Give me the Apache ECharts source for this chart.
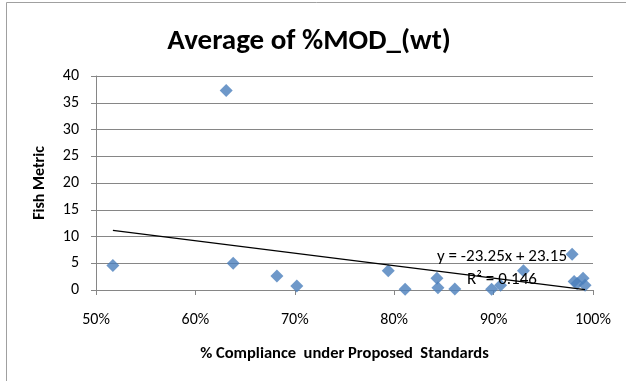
<!DOCTYPE html>
<html>
<head>
<meta charset="utf-8">
<script src="https://cdn.jsdelivr.net/npm/echarts@6/dist/echarts.min.js"></script>
<style>
  html, body { margin: 0; padding: 0; background: #fff; }
  #chart { width: 626px; height: 381px; }
</style>
</head>
<body>
<div id="chart"></div>
<script>
// Compliance share (fraction) and the fish metric for each site
const compliance = [0.517, 0.631, 0.638, 0.682, 0.702, 0.794, 0.811, 0.843, 0.844, 0.861, 0.898, 0.907, 0.930, 0.979, 0.981, 0.984, 0.990, 0.992];
const fishMetric = [4.6, 37.3, 5.0, 2.6, 0.75, 3.6, 0.15, 2.2, 0.4, 0.2, 0.15, 0.9, 3.6, 6.7, 1.6, 1.2, 2.2, 0.9];

// Linear trend: y = slope * x + intercept
const trendSlope = -23.25;
const trendIntercept = 23.15;
const trendR2 = 0.146;

const xTicks = [0.5, 0.6, 0.7, 0.8, 0.9, 1.0];
const yTicks = [0, 5, 10, 15, 20, 25, 30, 35, 40];

const FONT = 'Carlito, Lato, "Open Sans", sans-serif';

const points = compliance.map((x, i) => [x, fishMetric[i]]);
const xMinData = Math.min(...compliance);
const xMaxData = Math.max(...compliance);
const trendPoints = [
  [xMinData, trendSlope * xMinData + trendIntercept],
  [xMaxData, trendSlope * xMaxData + trendIntercept]
];

const chart = echarts.init(document.getElementById('chart'), null, { renderer: 'canvas' });

chart.setOption({
  animation: false,
  backgroundColor: '#ffffff',
  title: {
    text: 'Average of %MOD_(wt)',
    left: 304,
    top: 22,
    textAlign: 'center',
    textStyle: { fontFamily: FONT, fontSize: 29, fontWeight: 'bold', color: '#000' }
  },
  grid: { left: 96, right: 33, top: 76, bottom: 91 },
  xAxis: {
    type: 'value',
    min: xTicks[0],
    max: xTicks[xTicks.length - 1],
    interval: 0.1,
    name: '% Compliance  under Proposed  Standards',
    nameLocation: 'middle',
    nameGap: 55,
    nameTextStyle: { fontFamily: FONT, fontSize: 16.5, fontWeight: 'bold', color: '#000' },
    axisLine: { lineStyle: { color: '#868686', width: 1 } },
    axisTick: { show: true, inside: false, length: 5, lineStyle: { color: '#868686' } },
    axisLabel: {
      margin: 22,
      fontFamily: FONT, fontSize: 16, color: '#000',
      formatter: v => Math.round(v * 100) + '%'
    },
    splitLine: { show: false }
  },
  yAxis: {
    type: 'value',
    min: yTicks[0],
    max: yTicks[yTicks.length - 1],
    interval: 5,
    name: 'Fish Metric',
    nameLocation: 'middle',
    nameGap: 48,
    nameRotate: 90,
    nameTextStyle: { fontFamily: FONT, fontSize: 16, fontWeight: 'bold', color: '#000' },
    axisLine: { show: true, lineStyle: { color: '#868686', width: 1 } },
    axisTick: { show: true, inside: false, length: 5, lineStyle: { color: '#868686' } },
    axisLabel: { margin: 17, fontFamily: FONT, fontSize: 16, color: '#000' },
    splitLine: { show: true, lineStyle: { color: '#868686', width: 1 } }
  },
  graphic: [
    { type: 'line', shape: { x1: 6.5, y1: 2.5, x2: 626, y2: 2.5 }, style: { stroke: '#a0a0a0', lineWidth: 1 } },
    { type: 'line', shape: { x1: 6.5, y1: 2.5, x2: 6.5, y2: 381 }, style: { stroke: '#a0a0a0', lineWidth: 1 } },
    {
      type: 'text', z: 10,
      style: {
        text: 'y = -23.25x + 23.15', x: 502, y: 257,
        align: 'center', verticalAlign: 'middle',
        font: '17px ' + FONT, fill: '#000'
      }
    },
    {
      type: 'text', z: 10,
      style: {
        text: 'R² = ' + trendR2.toFixed(3), x: 502, y: 280,
        align: 'center', verticalAlign: 'middle',
        font: '17px ' + FONT, fill: '#000'
      }
    }
  ],
  series: [
    {
      name: 'Fish Metric',
      type: 'scatter',
      data: points,
      symbol: 'diamond',
      symbolSize: 13,
      itemStyle: { color: '#4A7EBB' },
      z: 3
    },
    {
      name: 'Linear trend',
      type: 'line',
      data: trendPoints,
      symbol: 'none',
      lineStyle: { color: '#000', width: 1.3 },
      z: 4
    }
  ]
});
</script>
</body>
</html>
